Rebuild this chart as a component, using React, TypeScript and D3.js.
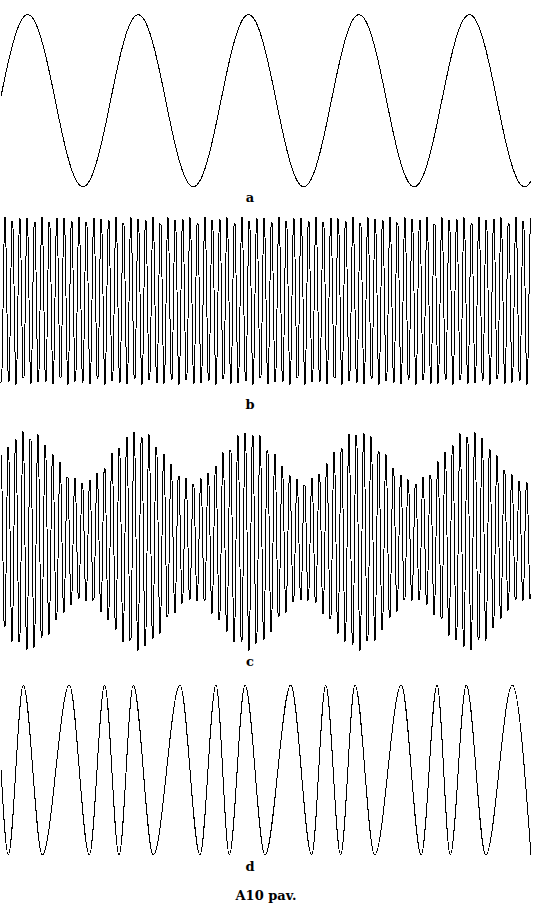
import React from "react";
import * as d3 from "d3";

const waveLabels = ["a", "b", "c", "d"];
const caption = "A10 pav.";

// time axis shared by all traces, measured in periods of the message wave (a)
const timeRange = [0, 4.8];
// message wave a: cycles per unit and time of its first crest
const messageFreq = [1];
const messageCrest = [0.242];
// carrier (b, and inside c): cycles per unit and first crest of each trace
const carrierFreq = [14.91];
const carrierCrest = [0.036, 0.066];
// depth of the amplitude modulation in c
const amDepth = [0.295];
// frequency modulated wave d: crest (+1) / trough (-1) times
const fmTimes = [0, 0.066, 0.202, 0.374, 0.619, 0.8, 0.939, 1.069, 1.198, 1.379, 1.621, 1.802, 1.947, 2.068, 2.21,
  2.391, 2.624, 2.814, 2.941, 3.076, 3.206, 3.384, 3.625, 3.806, 3.949, 4.069, 4.214, 4.39, 4.631, 4.8];
const fmLevels = [0, -1, 1, -1, 1, -1, 1, -1, 1, -1, 1, -1, 1, -1, 1,
  -1, 1, -1, 1, -1, 1, -1, 1, -1, 1, -1, 1, -1, 1, -1];

const W = 533, H = 912;
const centers = [100.7, 300.8, 540.5, 770];
const amps = [86, 84, 85.5, 85];
const labelY = [202, 409, 666, 871];

export default function App() {
  const x = d3.scaleLinear().domain(timeRange).range([1, 531]);
  const ys = centers.map((c, i) => d3.scaleLinear().domain([-1, 1]).range([c + amps[i], c - amps[i]]));

  // one sample per screen pixel
  const ts = d3.range(1, 532).map(px => x.invert(px));
  const tau = 2 * Math.PI;
  const message = (t: number) => Math.cos(tau * messageFreq[0] * (t - messageCrest[0]));
  const carrier = (t: number, k: number) => Math.cos(tau * carrierFreq[0] * (t - carrierCrest[k]));

  const series: [number, number][][] = [
    ts.map(t => [t, message(t)]),
    ts.map(t => [t, carrier(t, 0)]),
    ts.map(t => [t, (1 + amDepth[0] * message(t)) * carrier(t, 1)]),
    fmTimes.map((t, i) => [t, fmLevels[i]]),
  ];

  const paths = series.map((s, i) => {
    const line = d3.line<[number, number]>()
      .x(d => x(d[0]))
      .y(d => ys[i](d[1]));
    if (i === 3) line.curve(d3.curveMonotoneX);
    return line(s) || "";
  });

  return (
    <svg width={W} height={H} style={{ position: "absolute", left: 0, top: 0, background: "#fff" }}>
      {paths.map((d, i) => (
        <path key={i} d={d} fill="none" stroke="#000" strokeWidth={1} shapeRendering="crispEdges" />
      ))}
      <g fontFamily="'DejaVu Serif', serif" fontWeight="bold" fontSize={13} textAnchor="middle">
        {waveLabels.map((l, i) => (
          <text key={l} x={250} y={labelY[i]}>{l}</text>
        ))}
        <text x={266} y={900}>{caption}</text>
      </g>
    </svg>
  );
}
